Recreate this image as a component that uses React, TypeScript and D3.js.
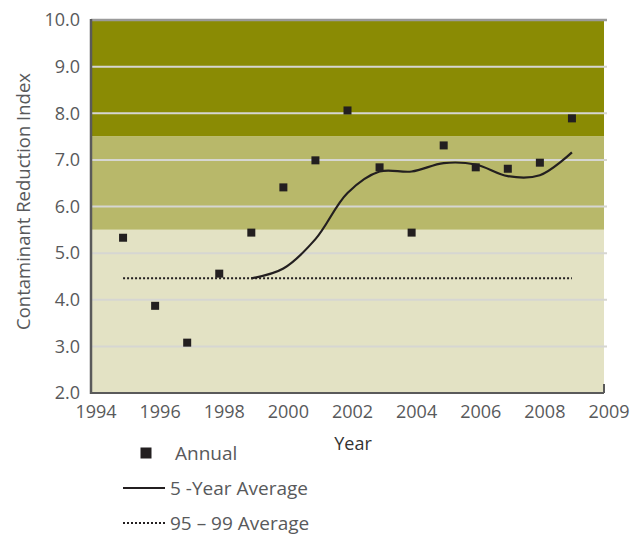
import React from "react";
import * as d3 from "d3";

const years = [1995, 1996, 1997, 1998, 1999, 2000, 2001, 2002, 2003, 2004, 2005, 2006, 2007, 2008, 2009];
const annual = [5.33, 3.87, 3.08, 4.56, 5.44, 6.41, 6.99, 8.06, 6.84, 5.44, 7.31, 6.84, 6.81, 6.94, 7.89];
const avgYears = [1999, 2000, 2001, 2002, 2003, 2004, 2005, 2006, 2007, 2008, 2009];
const fiveYearAvg = [4.46, 4.67, 5.30, 6.29, 6.75, 6.75, 6.93, 6.90, 6.65, 6.67, 7.16];
const baselineYears = [1995, 2009];
const baselineAvg = 4.46;
const yTicks = [2, 3, 4, 5, 6, 7, 8, 9, 10];
const xTickValues = [1994, 1996, 1998, 2000, 2002, 2004, 2006, 2008, 2010];
const xTickLabels = ["1994", "1996", "1998", "2000", "2002", "2004", "2006", "2008", "2009"];
const bands = [
  { from: 7.5, to: 10, color: "#8a8b04" },
  { from: 5.5, to: 7.5, color: "#b8b86a" },
  { from: 2, to: 5.5, color: "#e3e2c4" },
];

const W = 642;
const H = 535;
const left = 91;
const right = 604;
const top = 20;
const bottom = 393;
const font = "'Open Sans', 'Noto Sans', sans-serif";
const textColor = "#58595b";
const ink = "#231f20";

export default function App() {
  const x = d3.scaleLinear().domain([1994, 2010]).range([left, right]);
  const y = d3.scaleLinear().domain([2, 10]).range([bottom, top]);
  const line = d3
    .line<number>()
    .x((_, i) => x(avgYears[i]))
    .y((d) => y(d))
    .curve(d3.curveCatmullRom.alpha(0.5));
  const sq = 11;

  return (
    <svg
      width={W}
      height={H}
      style={{ position: "absolute", left: 0, top: 0, background: "#fff" }}
      fontFamily={font}
    >
      {bands.map((b, i) => (
        <rect
          key={i}
          x={left}
          y={y(b.to)}
          width={right - left}
          height={y(b.from) - y(b.to)}
          fill={b.color}
        />
      ))}
      {yTicks
        .filter((t) => t > 2 && t < 10)
        .map((t) => (
          <line key={t} x1={left} x2={right + 3} y1={y(t)} y2={y(t)} stroke="#d6d6d2" strokeWidth={2} />
        ))}
      <line x1={left} x2={right + 3} y1={y(10)} y2={y(10)} stroke="#9a9a9a" strokeWidth={2.5} />
      <line x1={left} x2={left} y1={top - 1} y2={bottom + 1} stroke="#5a5a5a" strokeWidth={2.5} />
      <line x1={left} x2={right} y1={bottom} y2={bottom} stroke="#5a5a5a" strokeWidth={2} />
      <line x1={right} x2={right} y1={bottom} y2={bottom - 9} stroke="#5a5a5a" strokeWidth={2} />

      {yTicks.map((t) => (
        <text
          key={t}
          x={80}
          y={y(t)}
          dy="0.35em"
          textAnchor="end"
          fontSize={18}
          fill={textColor}
        >
          {t.toFixed(1)}
        </text>
      ))}
      {xTickValues.map((v, i) => (
        <text key={v} x={x(v) + 5} y={418} textAnchor="middle" fontSize={18} fill={textColor}>
          {xTickLabels[i]}
        </text>
      ))}

      <text
        transform={`translate(30, ${(top + bottom) / 2 - 5}) rotate(-90)`}
        textAnchor="middle"
        fontSize={18.5}
        fill={textColor}
      >
        Contaminant Reduction Index
      </text>
      <text x={353} y={450} textAnchor="middle" fontSize={18} fill="#333" fontWeight={500}>
        Year
      </text>

      <line
        x1={x(baselineYears[0])}
        x2={x(baselineYears[1])}
        y1={y(baselineAvg)}
        y2={y(baselineAvg)}
        stroke={ink}
        strokeWidth={2}
        strokeDasharray="2 2"
      />
      <path d={line(fiveYearAvg) || ""} fill="none" stroke={ink} strokeWidth={2.2} />
      {annual.map((v, i) => (
        <rect key={years[i]} x={x(years[i]) - 4} y={y(v) - 4} width={8} height={8} fill={ink} />
      ))}

      <rect x={146 - sq / 2} y={453 - sq / 2} width={sq} height={sq} fill={ink} />
      <text x={175} y={460} fontSize={19} fill={textColor}>
        Annual
      </text>
      <line x1={123} x2={165} y1={488} y2={488} stroke={ink} strokeWidth={2.2} />
      <text x={170} y={495} fontSize={19} fill={textColor}>
        5 -Year Average
      </text>
      <line x1={123} x2={165} y1={523} y2={523} stroke={ink} strokeWidth={2} strokeDasharray="2 2" />
      <text x={170} y={530} fontSize={19} fill={textColor}>
        95 – 99 Average
      </text>
    </svg>
  );
}
